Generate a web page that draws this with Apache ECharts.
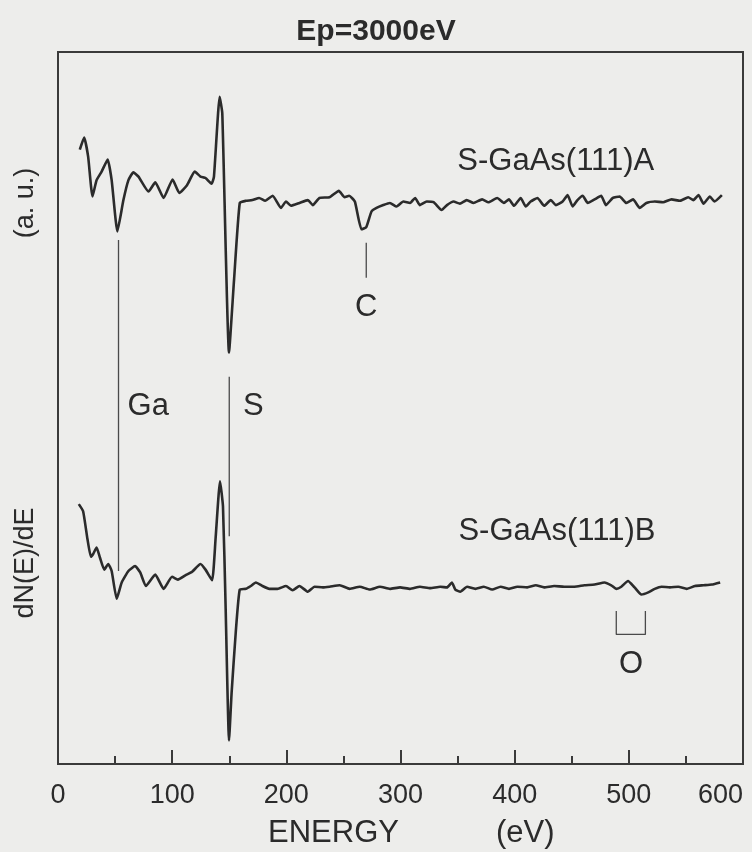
<!DOCTYPE html>
<html>
<head>
<meta charset="utf-8">
<script src="https://cdn.jsdelivr.net/npm/echarts@6/dist/echarts.min.js"></script>
<style>
html,body{margin:0;padding:0;background:#ededeb;}
#chart{width:752px;height:852px;}
</style>
</head>
<body>
<div id="chart"></div>
<script>
// Energy (eV) and dN(E)/dE (arbitrary units)
const energyA = [19.1,22.9,26.4,30.2,33.8,38.2,43.5,47,52,57.3,61.7,66,70.5,79.3,85.2,92.5,100.4,106.3,113,119.8,124.8,129.2,134.5,136.6,141.6,143.9,149.8,154.2,159.2,164.5,170.3,176.2,181.5,188,195.3,199.7,204,211.5,218.8,223.2,229,237.9,246,251,255,260,265.8,270,274.6,279,284.9,290.7,296.6,302.5,308.4,312.8,317,323,329,336,340.7,346.5,352,358,364,371.5,377,384.7,390.6,395,399.4,405.3,409.7,414,420,425.8,431.7,436,442,446.4,450.8,455,459.6,464,470,475.8,480,486,492,497.8,503.7,509.5,515.4,522.7,530,537.4,544.8,552,556.5,561,565.4,571,575,581.5];
const signalA = [86.3,88.0,85.3,79.7,82.0,83.2,84.9,82.0,74.8,79.2,82.0,83.1,82.5,80.4,81.7,79.5,82.1,80.2,81.3,83.2,82.5,82.3,81.5,82.5,93.7,91.4,57.8,68.0,78.8,79.1,79.2,79.5,79.1,79.8,78.1,79.0,78.4,78.8,79.2,78.5,79.5,79.6,80.5,79.6,79.8,79.0,75.1,75.4,77.6,78.1,78.5,78.8,78.3,79.0,78.8,79.5,78.5,79.0,78.9,77.8,78.5,79.0,78.7,79.2,78.8,79.3,78.9,79.5,78.8,79.3,78.4,79.5,78.3,79.0,79.5,78.4,79.2,78.5,79.0,79.9,78.3,79.2,79.8,78.8,79.3,79.8,78.5,79.5,79.7,78.8,79.3,78.1,78.8,79.0,78.9,79.3,79.1,79.6,79.2,79.9,78.7,79.7,79.0,79.9];

const energyB = [18.2,22,25.8,28.8,30.8,33.8,36.7,40.5,44,47,51.4,55.8,61.7,67.5,72,77,85.2,92.5,99.9,105,111.6,117.5,124.8,129.2,135,138,141.9,144.5,146.8,149.8,152.1,155.7,159.2,164.5,168.9,173.3,179.1,185,192.3,199.7,205.5,211.5,218.8,224.7,232,237.9,246.7,255.5,264.3,273,282,290.7,299.6,308.4,317,326,334.8,340.7,345,348,352.4,358.3,365.6,373,380.3,387.7,395,402.4,411,418.5,425.8,434.6,443.4,452.3,461,470,478.7,484.6,489,493.4,499.3,505,511,517,522.7,528.6,536,543.3,550.7,558,565.4,572.7,580];
const signalB = [36.5,35.5,31.6,29.1,29.5,30.4,29.0,27.3,28.1,27.1,23.2,25.5,27.1,27.8,26.9,25.0,26.6,24.6,26.3,25.9,26.5,27.0,28.1,27.3,25.8,31.6,39.7,36.2,22.2,3.3,10.1,18.5,24.5,24.6,25.0,25.5,25.0,24.6,24.6,25.0,24.4,25.0,24.2,24.9,24.8,24.9,25.1,24.6,24.9,24.5,24.9,24.6,24.8,24.6,24.9,24.7,24.9,24.8,25.5,24.5,24.2,24.9,24.6,24.9,24.5,24.9,24.6,24.9,24.8,25.1,24.8,25.0,24.9,24.9,25.1,25.2,25.5,25.1,24.6,24.9,25.7,24.8,23.8,24.1,24.6,24.9,24.8,24.9,24.6,25.0,25.1,25.2,25.5];

const xTicks = [0,100,200,300,400,500,600];

// Peak marker lines: [energy, value] end points
const markerGa = [[53,73.6],[53,27.1]];
const markerS  = [[150,54.4],[150,32.0]];
const markerC  = [[270,73.2],[270,68.3]];
const markerO  = [[489,21.5],[489,18.2],[514.5,18.2],[514.5,21.5]];

// Text labels placed at data coordinates
const textLabels = [
  {name:'S-GaAs(111)A', value:[436,84.6]},
  {name:'S-GaAs(111)B', value:[437,32.7]},
  {name:'C',  value:[270,64.1]},
  {name:'Ga', value:[79,50.2]},
  {name:'S',  value:[171,50.2]},
  {name:'O',  value:[502,14.0]}
];

const zip = (xs, ys) => xs.map((x, i) => [x, ys[i]]);
const ink = '#2b2b2b';

const chart = echarts.init(document.getElementById('chart'), null, {renderer:'canvas'});
const markerSeries = (d) => ({
  type:'line', data:d, symbol:'none', silent:true,
  lineStyle:{color:'#4a4a4a', width:1.3}, z:2
});
chart.setOption({
  backgroundColor:'#ededeb',
  animation:false,
  title:{
    text:'Ep=3000eV', left:'center', top:12,
    textStyle:{fontFamily:'Liberation Sans', fontWeight:'bold', fontSize:30, color:ink}
  },
  grid:{left:58, right:9, top:52, bottom:88, containLabel:false, outerBoundsMode:'none',
    show:true, borderColor:'#3a3a3a', borderWidth:2, backgroundColor:'transparent'},
  xAxis:{
    type:'value', min:0, max:600, interval:100,
    axisLine:{show:true, lineStyle:{color:'#3a3a3a', width:2}},
    axisTick:{show:true, inside:true, length:14, lineStyle:{color:'#3a3a3a', width:2}},
    minorTick:{show:true, splitNumber:2, length:8, lineStyle:{color:'#3a3a3a', width:2}},
    splitLine:{show:false},
    axisLabel:{
      margin:18, fontFamily:'Liberation Sans', fontSize:27, color:ink,
      alignMaxLabel:'right',
      formatter:(v)=> xTicks.includes(v) ? String(v) : ''
    }
  },
  yAxis:{type:'value', min:0, max:100, show:false},
  graphic:[
    {type:'text', left:268, top:818, style:{text:'ENERGY', fontFamily:'Liberation Sans', fontSize:31, fill:ink}},
    {type:'text', left:496, top:818, style:{text:'(eV)', fontFamily:'Liberation Sans', fontSize:31, fill:ink}},
    {type:'text', x:26, y:563, rotation:Math.PI/2, style:{text:'dN(E)/dE', fontFamily:'Liberation Sans', fontSize:27, fill:ink, align:'center', verticalAlign:'middle'}},
    {type:'text', x:26, y:203, rotation:Math.PI/2, style:{text:'(a. u.)', fontFamily:'Liberation Sans', fontSize:27, fill:ink, align:'center', verticalAlign:'middle'}}
  ],
  series:[
    {type:'line', data:zip(energyA, signalA), symbol:'none', smooth:0.15,
      lineStyle:{color:ink, width:2.6}, z:3},
    {type:'line', data:zip(energyB, signalB), symbol:'none', smooth:0.15,
      lineStyle:{color:ink, width:2.6}, z:3},
    markerSeries(markerGa),
    markerSeries(markerS),
    markerSeries(markerC),
    markerSeries(markerO),
    {type:'scatter', data:textLabels, symbolSize:0, silent:true, z:4,
      itemStyle:{opacity:1},
      label:{show:true, position:'inside', formatter:(p)=>p.name,
        fontFamily:'Liberation Sans', fontSize:31, color:ink, opacity:1}}
  ]
});
</script>
</body>
</html>
